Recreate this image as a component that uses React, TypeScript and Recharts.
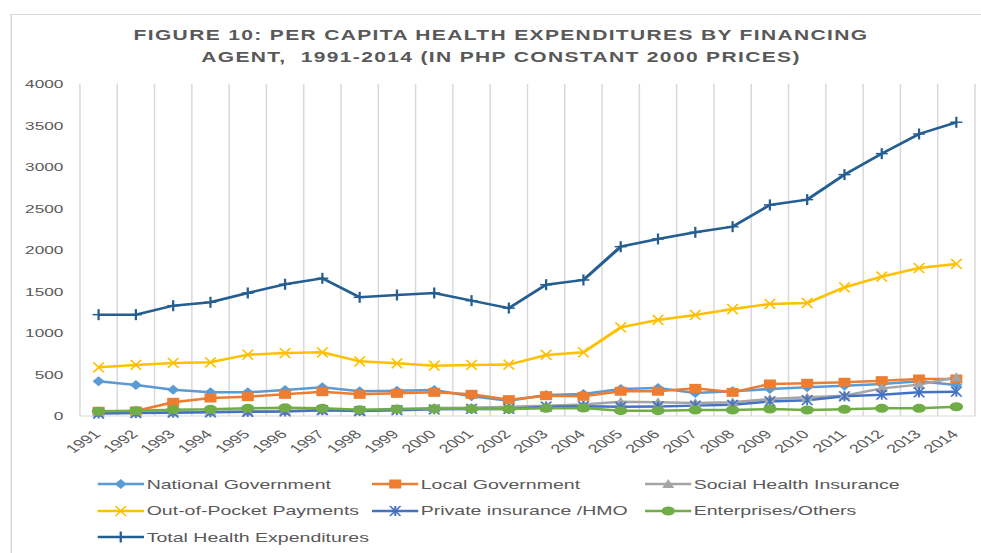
import React from 'react';
import { LineChart, Line, XAxis, YAxis, CartesianGrid, Legend } from 'recharts';

// the reference picture is stretched sideways, so the chart is drawn narrow and scaled
const W = 654;
const H = 553;
const SX = 1.5;
const FONT = '"Liberation Sans", Arial, sans-serif';
const GRAY_TEXT = '#595959';
const MARGIN = { top: 84, right: 4, left: 13.3, bottom: 87 };
const Y_WIDTH = 40;

const years = ['1991', '1992', '1993', '1994', '1995', '1996', '1997', '1998', '1999', '2000', '2001', '2002',
  '2003', '2004', '2005', '2006', '2007', '2008', '2009', '2010', '2011', '2012', '2013', '2014'];

const nationalGov = [418, 374, 317, 285, 285, 313, 346, 298, 305, 313, 237, 185, 253, 265, 325, 337, 277, 298, 325, 346, 365, 386, 418, 374];
const localGov = [57, 60, 165, 217, 233, 261, 293, 261, 273, 285, 261, 197, 245, 237, 298, 298, 333, 285, 386, 394, 406, 426, 446, 446];
const socialInsurance = [35, 40, 45, 50, 55, 60, 70, 60, 80, 95, 100, 110, 124, 140, 173, 165, 157, 165, 205, 225, 245, 333, 378, 466];
const outOfPocket = [587, 615, 639, 647, 739, 759, 767, 659, 635, 606, 615, 619, 735, 767, 1069, 1157, 1217, 1289, 1350, 1362, 1551, 1679, 1783, 1832];
const privateHmo = [30, 35, 40, 45, 50, 55, 70, 60, 70, 80, 85, 85, 112, 118, 110, 115, 125, 135, 175, 190, 237, 257, 285, 293];
const enterprises = [57, 64, 76, 80, 92, 100, 92, 76, 84, 88, 88, 84, 92, 96, 64, 64, 72, 72, 84, 72, 80, 92, 92, 112];
const totalHealth = [1221, 1221, 1329, 1370, 1482, 1587, 1659, 1430, 1458, 1482, 1390, 1300, 1582, 1639, 2040, 2133, 2213, 2281, 2543, 2607, 2908, 3161, 3398, 3539];

const yTicks = [0, 500, 1000, 1500, 2000, 2500, 3000, 3500, 4000];

const data = years.map((year, i) => ({
  year,
  national: nationalGov[i],
  local: localGov[i],
  social: socialInsurance[i],
  oop: outOfPocket[i],
  private: privateHmo[i],
  enterprises: enterprises[i],
  total: totalHealth[i],
}));

// points sit in the middle of each year's slot, like Excel's "between tick marks"
const PLOT_W = W - MARGIN.left - MARGIN.right - Y_WIDTH;
const HALF_SLOT = PLOT_W / years.length / 2;

type MarkerKind = 'diamond' | 'square' | 'triangle' | 'x' | 'star' | 'circle' | 'plus';

const series: { key: string; name: string; color: string; marker: MarkerKind }[] = [
  { key: 'national', name: 'National Government', color: '#5B9BD5', marker: 'diamond' },
  { key: 'local', name: 'Local Government', color: '#ED7D31', marker: 'square' },
  { key: 'social', name: 'Social Health Insurance', color: '#A5A5A5', marker: 'triangle' },
  { key: 'oop', name: 'Out-of-Pocket Payments', color: '#FFC000', marker: 'x' },
  { key: 'private', name: 'Private insurance /HMO', color: '#4472C4', marker: 'star' },
  { key: 'enterprises', name: 'Enterprises/Others', color: '#70AD47', marker: 'circle' },
  { key: 'total', name: 'Total Health Expenditures', color: '#255E91', marker: 'plus' },
];

const Marker = ({ kind, color, cx, cy }: { kind: MarkerKind; color: string; cx: number; cy: number }) => {
  switch (kind) {
    case 'diamond':
      return <polygon points={`${cx},${cy - 5} ${cx + 4},${cy} ${cx},${cy + 5} ${cx - 4},${cy}`} fill={color} />;
    case 'square':
      return <rect x={cx - 4} y={cy - 4.5} width={8} height={9} fill={color} />;
    case 'triangle':
      return <polygon points={`${cx},${cy - 5} ${cx + 4},${cy + 4} ${cx - 4},${cy + 4}`} fill={color} />;
    case 'x':
      return (
        <g stroke={color} strokeWidth={1.3}>
          <line x1={cx - 3.5} y1={cy - 5} x2={cx + 3.5} y2={cy + 5} />
          <line x1={cx - 3.5} y1={cy + 5} x2={cx + 3.5} y2={cy - 5} />
        </g>
      );
    case 'star':
      return (
        <g stroke={color} strokeWidth={1.3}>
          <line x1={cx - 3.5} y1={cy - 5} x2={cx + 3.5} y2={cy + 5} />
          <line x1={cx - 3.5} y1={cy + 5} x2={cx + 3.5} y2={cy - 5} />
          <line x1={cx} y1={cy - 5} x2={cx} y2={cy + 5} />
        </g>
      );
    case 'circle':
      return <circle cx={cx} cy={cy} r={4.5} fill={color} />;
    case 'plus':
    default:
      return (
        <g stroke={color} strokeWidth={1.5}>
          <line x1={cx - 4} y1={cy} x2={cx + 4} y2={cy} />
          <line x1={cx} y1={cy - 5.5} x2={cx} y2={cy + 5.5} />
        </g>
      );
  }
};

const makeDot = (kind: MarkerKind, color: string) => (props: any) => (
  <g key={`${kind}-${props.index}`}>
    <Marker kind={kind} color={color} cx={props.cx} cy={props.cy} />
  </g>
);

const XTick = ({ x, y, payload }: any) => (
  <text
    x={x - 1}
    y={y}
    transform={`rotate(-45, ${x - 1}, ${y})`}
    textAnchor="end"
    dy="0.35em"
    fill={GRAY_TEXT}
    fontSize={12}
  >
    {payload.value}
  </text>
);

const LegendBox = () => (
  <div style={{ display: 'grid', gridTemplateColumns: '182.7px 182px 200px', gridAutoRows: '26.5px' }}>
    {series.map((s) => (
      <div key={s.key} style={{ display: 'flex', alignItems: 'center', whiteSpace: 'nowrap' }}>
        <svg width={31} height={14} style={{ marginRight: 1.5 }}>
          <line x1={0} y1={7} x2={31} y2={7} stroke={s.color} strokeWidth={2.5} />
          <Marker kind={s.marker} color={s.color} cx={15.5} cy={7} />
        </svg>
        <span style={{ fontSize: 13, color: GRAY_TEXT }}>{s.name}</span>
      </div>
    ))}
  </div>
);

export default function App() {
  return (
    <div
      style={{
        position: 'absolute',
        left: 0,
        top: 0,
        width: W,
        height: H,
        transform: `scaleX(${SX})`,
        transformOrigin: '0 0',
        fontFamily: FONT,
        background: '#fff',
      }}
    >
      <div
        style={{
          position: 'absolute',
          left: 6.7,
          top: 14,
          width: W - 6.7,
          height: H - 14,
          borderTop: '1px solid #d9d9d9',
          borderLeft: '1px solid #d9d9d9',
          boxSizing: 'border-box',
        }}
      />
      <div
        style={{
          position: 'absolute',
          left: 0,
          width: 668,
          top: 24,
          textAlign: 'center',
          fontWeight: 'bold',
          fontSize: 14,
          lineHeight: '22px',
          letterSpacing: 0.9,
          color: GRAY_TEXT,
          whiteSpace: 'pre',
        }}
      >
        <div>FIGURE 10: PER CAPITA HEALTH EXPENDITURES BY FINANCING</div>
        <div>AGENT,  1991-2014 (IN PHP CONSTANT 2000 PRICES)</div>
      </div>
      <LineChart width={W} height={H} data={data} margin={MARGIN}>
        <CartesianGrid
          horizontal={false}
          stroke="#d9d9d9"
          verticalCoordinatesGenerator={({ offset }: any) =>
            Array.from({ length: years.length + 1 }, (_, i) => offset.left + (offset.width * i) / years.length)
          }
        />
        <XAxis
          dataKey="year"
          height={50}
          interval={0}
          padding={{ left: HALF_SLOT, right: HALF_SLOT }}
          axisLine={{ stroke: '#d9d9d9' }}
          tickLine={false}
          tickSize={0}
          tickMargin={16}
          tick={<XTick />}
        />
        <YAxis
          width={Y_WIDTH}
          domain={[0, 4000]}
          ticks={yTicks}
          axisLine={false}
          tickLine={false}
          tickSize={0}
          tickMargin={11}
          tick={{ fill: GRAY_TEXT, fontSize: 11.5 }}
        />
        <Legend
          layout="horizontal"
          verticalAlign="middle"
          align="center"
          wrapperStyle={{ left: 65.3, top: 471, width: 580 }}
          content={() => <LegendBox />}
        />
        {series.map((s) => (
          <Line
            key={s.key}
            dataKey={s.key}
            name={s.name}
            stroke={s.color}
            strokeWidth={2.5}
            dot={makeDot(s.marker, s.color)}
            activeDot={false}
            isAnimationActive={false}
          />
        ))}
      </LineChart>
    </div>
  );
}
